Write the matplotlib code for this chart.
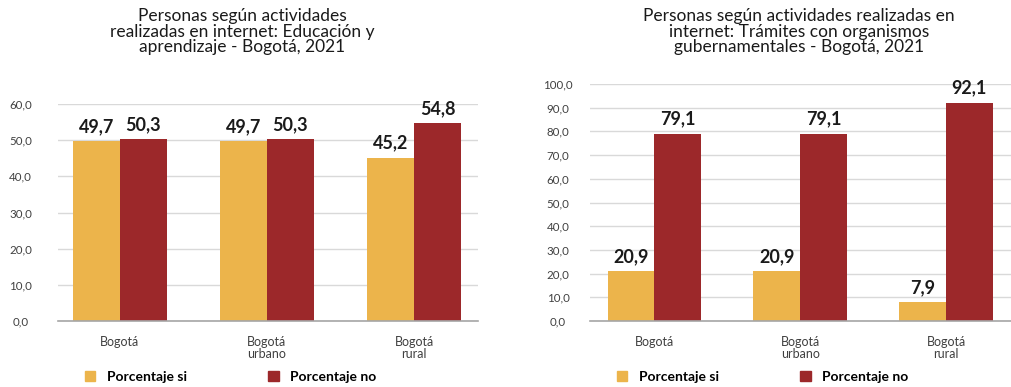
import matplotlib.pyplot as plt
import numpy as np
from matplotlib.patches import Patch

plt.rcParams['font.family'] = ['Lato', 'DejaVu Sans']

categorias = ['Bogotá', 'Bogotá\nurbano', 'Bogotá\nrural']
series = ['Porcentaje si', 'Porcentaje no']

edu_si = [49.7, 49.7, 45.2]
edu_no = [50.3, 50.3, 54.8]
tram_si = [20.9, 20.9, 7.9]
tram_no = [79.1, 79.1, 92.1]

titulo_edu = 'Personas según actividades\nrealizadas en internet: Educación y\naprendizaje - Bogotá, 2021'
titulo_tram = 'Personas según actividades realizadas en\ninternet: Trámites con organismos\ngubernamentales - Bogotá, 2021'

amarillo = '#ECB44B'
rojo = '#9C282A'
W, H = 1011, 387


def fmt(v):
    return f'{v:.1f}'.replace('.', ',')


def panel(rect, si, no, ymax, pad, xlim):
    ax = fig.add_axes(rect)
    x = np.arange(len(categorias))
    w = 0.32
    b1 = ax.bar(x - w / 2, si, w, color=amarillo, zorder=3)
    b2 = ax.bar(x + w / 2, no, w, color=rojo, zorder=3)
    for bars, vals in ((b1, si), (b2, no)):
        for r, v in zip(bars, vals):
            ax.annotate(fmt(v), (r.get_x() + r.get_width() / 2, v),
                        xytext=(0, 6.5), textcoords='offset points',
                        ha='center', va='baseline', fontsize=13,
                        fontweight='bold', color='#1a1a1a')
    ax.set_ylim(0, ymax)
    ax.set_xlim(*xlim)
    ticks = np.arange(0, ymax + 1, 10)
    ax.set_yticks(ticks)
    ax.set_yticklabels([fmt(t) for t in ticks], fontsize=8.3, color='#404040')
    for lab in ax.get_yticklabels():
        lab.set_horizontalalignment('center')
    ax.tick_params(axis='y', length=0, pad=pad)
    ax.set_xticks(x)
    ax.set_xticklabels(categorias, fontsize=9, color='#404040', linespacing=0.95)
    ax.tick_params(axis='x', length=0, pad=11)
    ax.grid(axis='y', color='#D9D9D9', linewidth=1, zorder=0)
    for s in ('top', 'right', 'left'):
        ax.spines[s].set_visible(False)
    ax.spines['bottom'].set_color('#A6A6A6')
    ax.spines['bottom'].set_linewidth(1.2)
    ax.spines['bottom'].set_zorder(4)
    return ax


fig = plt.figure(figsize=(W / 100, H / 100), dpi=100)

panel([58 / W, 66 / H, 420 / W, 217 / H], edu_si, edu_no, 60, 27, (-0.42, 2.435))
panel([590 / W, 66 / H, 421 / W, 237 / H], tram_si, tram_no, 100, 23, (-0.44, 2.445))

fig.text(242 / W, 1 - 8 / H, titulo_edu, ha='center', va='top', fontsize=12.5,
         linespacing=0.98, color='#1a1a1a')
fig.text(799 / W, 1 - 8 / H, titulo_tram, ha='center', va='top', fontsize=12.5,
         linespacing=0.98, color='#1a1a1a')

handles = [Patch(color=amarillo), Patch(color=rojo)]
for xl in (85, 617):
    leg = fig.legend(handles, series, loc='center left',
                     bbox_to_anchor=(xl / W, 1 - 377 / H), ncol=2, frameon=False,
                     borderpad=0, borderaxespad=0, handlelength=0.75,
                     handleheight=0.75, handletextpad=0.8, columnspacing=5.9,
                     prop={'weight': 'bold', 'size': 10})

fig.savefig('out.png', dpi=100)
